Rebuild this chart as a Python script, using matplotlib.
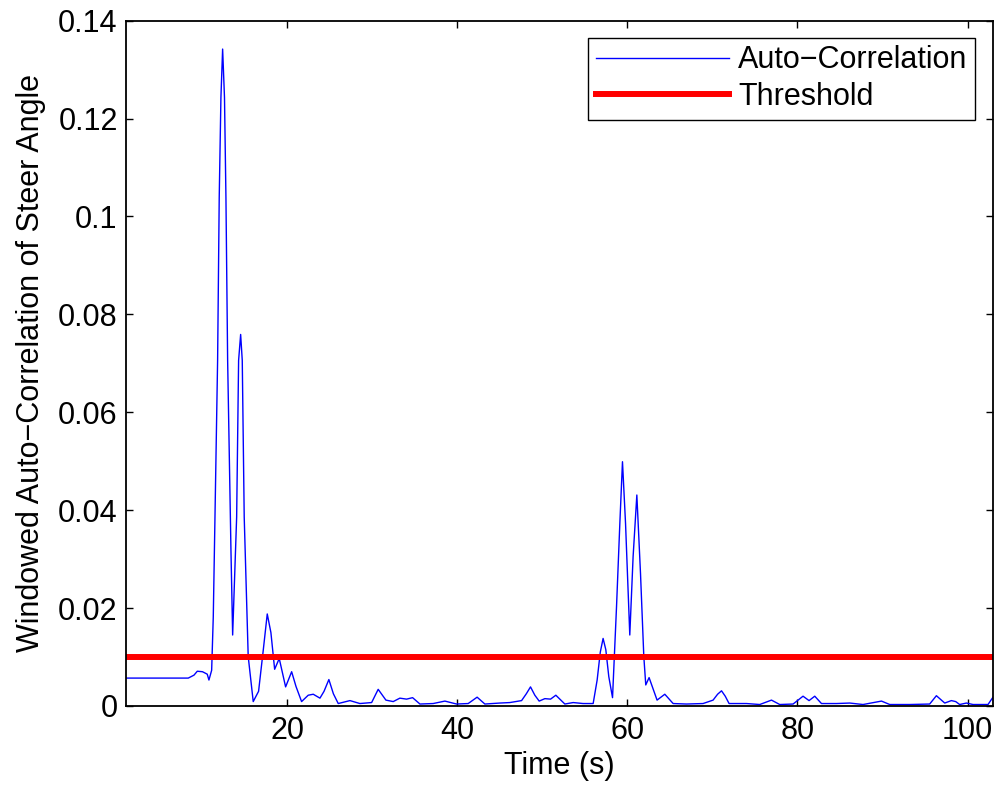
import matplotlib
matplotlib.use("Agg")
import matplotlib.pyplot as plt

plt.rcParams['font.family'] = ['Liberation Sans', 'DejaVu Sans']

time_s = [1.0, 5.0, 8.33, 9.0, 9.39, 10.0, 10.56, 10.76, 11.08, 11.27, 11.47, 11.78,
          11.97, 12.17, 12.37, 12.59, 12.76, 12.96, 13.35, 13.55, 14.02, 14.25, 14.49,
          14.68, 14.91, 15.38, 15.97, 16.6, 17.15, 17.62, 18.05, 18.49, 19.03, 19.78,
          20.49, 21.0, 21.66, 22.44, 23.03, 23.82, 24.3, 24.87, 25.4, 25.97, 27.35,
          28.52, 29.9, 30.67, 31.58, 32.44, 33.22, 34.01, 34.72, 35.58, 37.14, 38.52,
          39.89, 41.26, 42.31, 43.22, 44.98, 46.16, 47.54, 48.1, 48.59, 49.1, 49.61,
          50.28, 50.95, 51.57, 52.63, 53.61, 54.78, 55.96, 56.43, 56.8, 57.13, 57.45,
          57.8, 58.24, 58.71, 59.1, 59.41, 59.77, 60.27, 60.66, 61.1, 61.53, 61.92,
          62.15, 62.54, 63.48, 64.39, 65.37, 66.94, 68.89, 70.07, 70.6, 71.06, 71.5,
          71.95, 74.0, 75.56, 76.94, 77.91, 79.48, 80.07, 80.65, 81.36, 82.03, 82.82,
          84.58, 86.15, 87.71, 89.88, 90.85, 93.2, 95.55, 96.34, 97.32, 98.1, 98.61,
          99.08, 99.87, 100.65, 102.41, 103.0]
auto_corr = [0.0057, 0.0057, 0.0057, 0.0063, 0.0071, 0.0070, 0.0065, 0.0053, 0.0073, 0.0182,
             0.0386, 0.0706, 0.1039, 0.1243, 0.1342, 0.1243, 0.1039, 0.0706, 0.0318, 0.0145,
             0.0386, 0.0706, 0.0759, 0.0706, 0.0386, 0.0101, 0.0009, 0.0030, 0.0114, 0.0188,
             0.0150, 0.0075, 0.0097, 0.0039, 0.0070, 0.0040, 0.0009, 0.0022, 0.0024, 0.0016,
             0.0030, 0.0054, 0.0025, 0.0005, 0.0011, 0.0005, 0.0007, 0.0034, 0.0012, 0.0009,
             0.0016, 0.0014, 0.0017, 0.0004, 0.0005, 0.0010, 0.0004, 0.0005, 0.0018, 0.0004,
             0.0006, 0.0007, 0.0011, 0.0025, 0.0039, 0.0022, 0.0010, 0.0015, 0.0014, 0.0022,
             0.0004, 0.0007, 0.0005, 0.0005, 0.0053, 0.0110, 0.0138, 0.0115, 0.0060, 0.0017,
             0.0203, 0.0373, 0.0499, 0.0373, 0.0145, 0.0305, 0.0431, 0.0271, 0.0101, 0.0043,
             0.0058, 0.0012, 0.0024, 0.0005, 0.0004, 0.0005, 0.0012, 0.0024, 0.0031, 0.0020,
             0.0005, 0.0005, 0.0003, 0.0012, 0.0003, 0.0004, 0.0012, 0.0020, 0.0011, 0.0020,
             0.0005, 0.0005, 0.0006, 0.0003, 0.0010, 0.0003, 0.0003, 0.0004, 0.0021, 0.0006,
             0.0011, 0.0009, 0.0003, 0.0006, 0.0003, 0.0003, 0.0018]
threshold = 0.01
x_ticks = [20, 40, 60, 80, 100]
y_ticks = [0, 0.02, 0.04, 0.06, 0.08, 0.1, 0.12, 0.14]
y_tick_labels = ['0', '0.02', '0.04', '0.06', '0.08', '0.1', '0.12', '0.14']

FS = 22

fig = plt.figure(figsize=(9.99, 7.86), dpi=100)
ax = fig.add_axes([0.1261, 0.1018, 0.8679, 0.8719])

ax.plot(time_s, auto_corr, color='#0000ff', lw=1.0, label='Auto\u2212Correlation')
ax.axhline(threshold, color='#ff0000', lw=4.3, label='Threshold')

ax.set_xlim(1, 103)
ax.set_ylim(0, 0.14)
ax.set_xticks(x_ticks)
ax.set_yticks(y_ticks)
ax.set_yticklabels(y_tick_labels)

ax.tick_params(direction='in', length=5, width=1.0, top=True, right=True,
               labelsize=FS, colors='black')
ax.tick_params(axis='x', pad=7)
ax.tick_params(axis='y', pad=6)
for s in ax.spines.values():
    s.set_linewidth(1.3)

ax.set_xlabel('Time (s)', fontsize=FS, labelpad=4)
ax.set_ylabel('Windowed Auto\u2212Correlation of Steer Angle', fontsize=FS, labelpad=9)

leg = ax.legend(loc='upper right', bbox_to_anchor=(0.9795, 0.975), fontsize=FS,
                handlelength=4.35, handletextpad=0.3, borderpad=0.25, labelspacing=0.22,
                fancybox=False, framealpha=1, edgecolor='black', borderaxespad=0)
leg.get_frame().set_linewidth(1.0)

fig.savefig('out.png', dpi=100)
